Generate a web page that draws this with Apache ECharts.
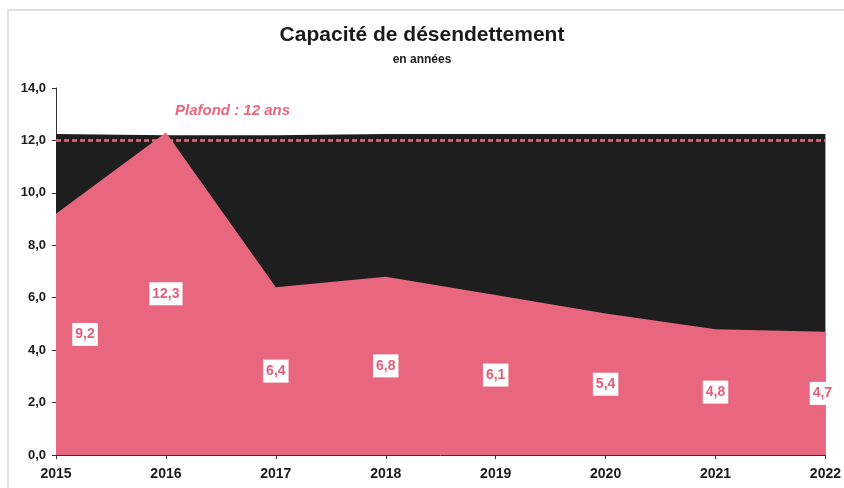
<!DOCTYPE html>
<html>
<head>
<meta charset="utf-8">
<script src="https://cdn.jsdelivr.net/npm/echarts@6/dist/echarts.min.js"></script>
<style>
  html, body { margin: 0; padding: 0; background: #fff; }
  #chart { width: 844px; height: 488px; }
</style>
</head>
<body>
<div id="chart"></div>
<script>
// données du graphique
const years = ["2015", "2016", "2017", "2018", "2019", "2020", "2021", "2022"];
const capacite = [9.2, 12.3, 6.4, 6.8, 6.1, 5.4, 4.8, 4.7];
const fond = [12.25, 12.2, 12.2, 12.25, 12.25, 12.25, 12.25, 12.25];
const plafond = 12;
const yTicks = [0, 2, 4, 6, 8, 10, 12, 14];

const pink = "#E8677F";
const fontFam = "'Liberation Sans Narrow', 'Liberation Sans', Arial, sans-serif";

function fr(v, d) {
  return v.toFixed(d).replace(".", ",");
}

const myChart = echarts.init(document.getElementById("chart"));

// étiquettes posées à mi-hauteur de l'aire
const labelData = capacite.map((v, i) => {
  let offset = [0, 0];
  if (i === 0) offset = [29, 0];
  if (i === capacite.length - 1) offset = [-3, 0];
  return {
    value: v / 2,
    label: { offset: offset },
  };
});

const option = {
  backgroundColor: "#fff",
  animation: false,
  title: {
    text: "Capacité de désendettement",
    subtext: "en années",
    left: "center",
    top: 20,
    itemGap: 8,
    textStyle: {
      fontFamily: fontFam,
      fontSize: 21,
      fontWeight: "bold",
      color: "#1a1a1a",
    },
    subtextStyle: {
      fontFamily: fontFam,
      fontSize: 12,
      fontWeight: "bold",
      color: "#1a1a1a",
    },
  },
  grid: {
    left: 56,
    right: 15,
    top: 88,
    bottom: 33,
  },
  xAxis: {
    type: "category",
    data: years,
    boundaryGap: false,
    axisLine: { show: true, lineStyle: { color: "#333", width: 1 } },
    axisTick: { show: true, length: 4, lineStyle: { color: "#333" } },
    axisLabel: {
      margin: 12,
      fontFamily: fontFam,
      fontSize: 14,
      fontWeight: "bold",
      color: "#1a1a1a",
    },
  },
  yAxis: {
    type: "value",
    min: 0,
    max: 14,
    interval: 2,
    axisLine: { show: true, lineStyle: { color: "#333", width: 1 } },
    axisTick: { show: true, length: 4, lineStyle: { color: "#333" } },
    splitLine: { show: false },
    axisLabel: {
      margin: 10,
      fontFamily: fontFam,
      fontSize: 13,
      fontWeight: "bold",
      color: "#1a1a1a",
      formatter: function (v) {
        return yTicks.indexOf(v) >= 0 ? fr(v, 1) : "";
      },
    },
  },
  series: [
    {
      name: "fond",
      type: "line",
      data: fond,
      symbol: "none",
      lineStyle: { width: 0 },
      itemStyle: { color: "#1e1e1e" },
      areaStyle: { color: "#1e1e1e", opacity: 1 },
      z: 1,
    },
    {
      name: "Capacité",
      type: "line",
      data: capacite,
      symbol: "none",
      lineStyle: { width: 0 },
      itemStyle: { color: pink },
      areaStyle: { color: pink, opacity: 1 },
      z: 2,
      markLine: {
        silent: true,
        symbol: "none",
        lineStyle: { color: "#E46A7C", type: [5, 3], width: 2.5 },
        label: { show: false },
        data: [{ yAxis: plafond }],
      },
    },
    {
      name: "étiquettes",
      type: "scatter",
      data: labelData,
      symbolSize: 0,
      itemStyle: { opacity: 1 },
      z: 5,
      label: {
        show: true,
        position: "inside",
        fontFamily: fontFam,
        fontSize: 14,
        fontWeight: "bold",
        color: "#E45C77",
        backgroundColor: "#fff",
        padding: [5, 3, 4, 3],
        formatter: function (p) {
          return fr(capacite[p.dataIndex], 1);
        },
      },
    },
  ],
  graphic: [
    {
      type: "rect",
      shape: { x: 8, y: 10, width: 850, height: 490 },
      style: { fill: "none", stroke: "#d8d8d8", lineWidth: 1.5 },
      silent: true,
    },
    {
      type: "text",
      left: 175,
      top: 103,
      style: {
        text: "Plafond : 12 ans",
        fontFamily: fontFam,
        fontSize: 15,
        fontWeight: "bold",
        fontStyle: "italic",
        fill: "#E8677F",
      },
    },
  ],
};

myChart.setOption(option);
window.addEventListener("resize", () => {
  myChart.resize();
});
</script>
</body>
</html>
